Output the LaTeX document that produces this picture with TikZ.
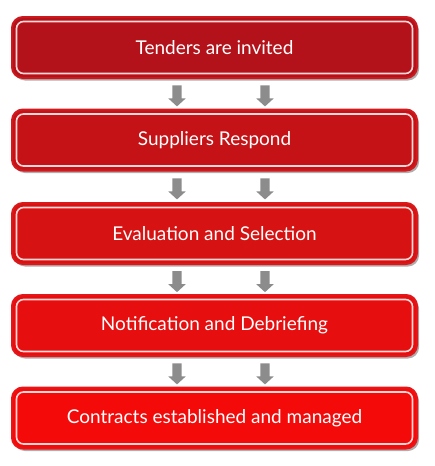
\documentclass[tikz,border=0pt]{standalone}
\usepackage{fontspec}
\setmainfont{Lato}
\usetikzlibrary{shadows,shapes.arrows}
\definecolor{stepA}{HTML}{B3121A}
\definecolor{stepB}{HTML}{C41216}
\definecolor{stepC}{HTML}{D61212}
\definecolor{stepD}{HTML}{E60E0E}
\definecolor{stepE}{HTML}{F50A0A}
\definecolor{rimred}{HTML}{E01E22}
\definecolor{arrowgrey}{HTML}{8C8C8C}
\tikzset{
  x=1pt, y=-1pt,
  stepbox/.style={rounded corners=11pt, minimum width=405pt, minimum height=61pt,
    draw=#1!45!rimred, line width=2pt, fill=#1, text=white,
    font=\fontsize{19}{21}\selectfont,
    drop shadow={shadow xshift=2pt, shadow yshift=-2.5pt, opacity=0.45, fill=black!70}},
  innerline/.style={draw=white!85!red, line width=1.6pt, rounded corners=7pt},
  downarrow/.style={single arrow, draw=none, fill=arrowgrey, shape border rotate=270,
    single arrow head extend=4pt, single arrow tip angle=95,
    inner sep=4.5pt, minimum height=21pt}
}
\begin{document}
\begin{tikzpicture}
\useasboundingbox (0,0) rectangle (434,466);
\fill[white] (0,0) rectangle (434,466);
\foreach \nm/\yc/\col/\txt in {
  s1/47.5/stepA/Tenders are invited,
  s2/140/stepB/Suppliers Respond,
  s3/233.5/stepC/Evaluation and Selection,
  s4/325.5/stepD/Notification and Debriefing,
  s5/418/stepE/Contracts established and managed}{
  \node[stepbox=\col] (\nm) at (214.5,\yc) {\txt};
  \draw[innerline] ([xshift=5.5pt,yshift=-5.5pt]\nm.north west) rectangle ([xshift=-5.5pt,yshift=5.5pt]\nm.south east);
}
\foreach \a/\b in {s1/s2, s2/s3, s3/s4, s4/s5}{
  \path (\a.south) -- (\b.north) coordinate[pos=0.5] (m-\a);
  \node[downarrow] (la-\a) at ([xshift=-37.5pt]m-\a) {};
  \node[downarrow] (ra-\a) at ([xshift=50.5pt]m-\a) {};
}
\end{tikzpicture}
\end{document}
